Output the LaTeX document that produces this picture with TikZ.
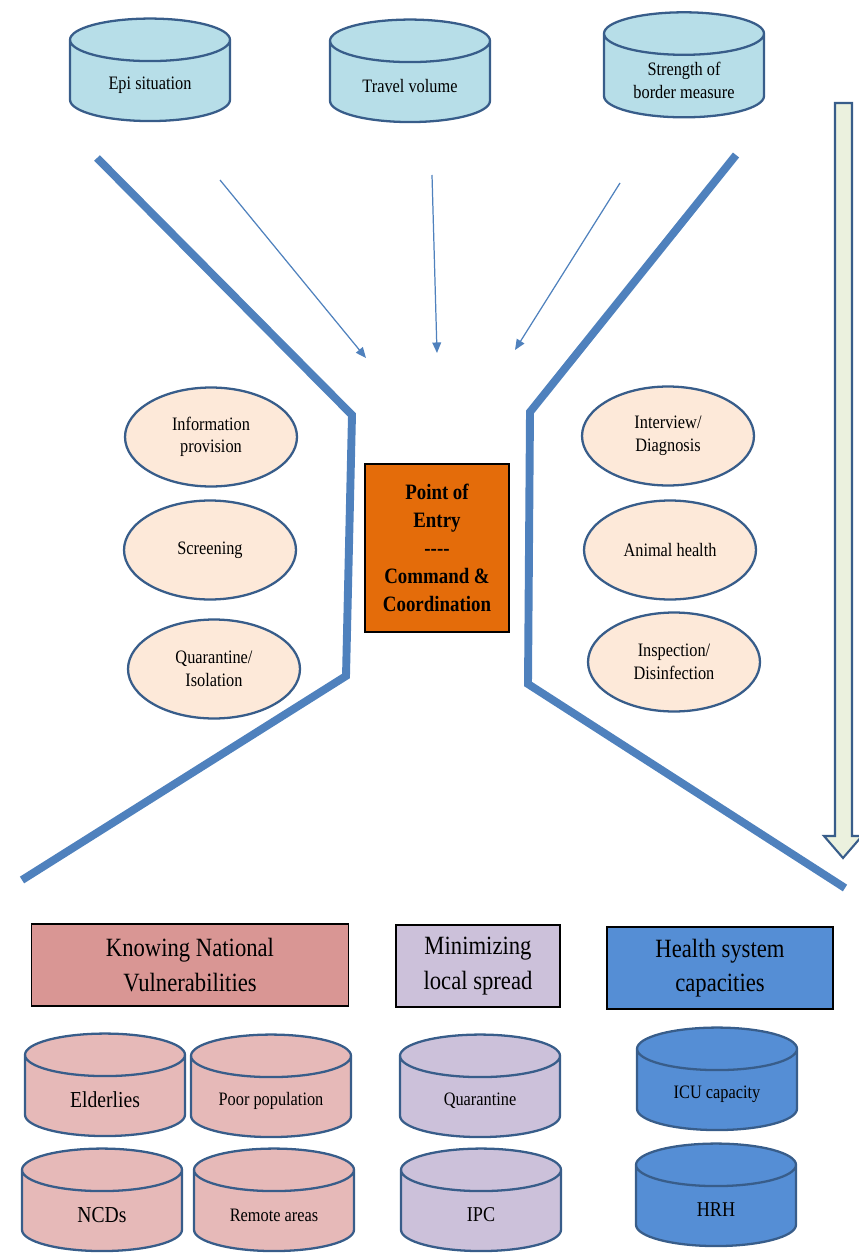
\documentclass[tikz,border=0pt]{standalone}
\usepackage{fontspec}
\setmainfont[FakeStretch=0.86]{Liberation Serif}
\usetikzlibrary{shapes.geometric,arrows.meta}
\definecolor{edgeblue}{HTML}{385D8A}
\definecolor{funnel}{HTML}{4F81BD}
\definecolor{skyfill}{HTML}{B7DEE8}
\definecolor{peach}{HTML}{FDE9D9}
\definecolor{poeorange}{HTML}{E46C0A}
\definecolor{rosehead}{HTML}{D99694}
\definecolor{rosecyl}{HTML}{E6B9B8}
\definecolor{lilac}{HTML}{CCC1DA}
\definecolor{hsblue}{HTML}{558ED5}
\definecolor{palegreen}{HTML}{EBF1DE}

\begin{document}
\begin{tikzpicture}[x=0.02cm,y=-0.02cm,
    dbase/.style={cylinder, shape border rotate=90, aspect=0.3, draw=edgeblue,
      line width=1.3pt, minimum width=3.2cm, minimum height=2.05cm,
      text width=2.6cm, align=flush center, font=\fontsize{10.8}{13}\selectfont},
    task/.style={ellipse, draw=edgeblue, fill=peach, line width=1.3pt,
      minimum width=3.44cm, minimum height=1.98cm, align=center,
      font=\fontsize{10.8}{12.8}\selectfont},
    pillar/.style={draw=black, line width=0.8pt, align=center,
      minimum height=1.64cm, font=\fontsize{15}{19.5}\selectfont},
    wall/.style={draw=funnel, line width=4.5pt},
    flow/.style={draw=funnel, line width=0.7pt, -{Triangle[length=6pt,width=5pt]}}]
    \useasboundingbox (0,0) rectangle (858,1253);

    \node[dbase, fill=skyfill] (epi) at (150,85) {Epi situation};
    \node[dbase, fill=skyfill] (travel) at (410,86) {Travel volume};
    \node[dbase, fill=skyfill] (border) at (684,80) {Strength of\\border measure};

    \draw[wall] (97,158) -- (352,415) -- (346,676) -- (22,880);
    \draw[wall] (736,155) -- (530,412) -- (528,684) -- (845,888);

    \coordinate (epiout) at (220,180);
    \coordinate (epiin) at (366,358);
    \coordinate (travelout) at (432,175);
    \coordinate (travelin) at (437,353);
    \coordinate (borderout) at (620,183);
    \coordinate (borderin) at (515,350);
    \draw[flow] (epiout) -- (epiin);
    \draw[flow] (travelout) -- (travelin);
    \draw[flow] (borderout) -- (borderin);

    \node[draw=black, line width=0.8pt, fill=poeorange, minimum width=2.88cm,
      minimum height=3.36cm, align=center,
      font=\bfseries\fontsize{12.5}{16}\selectfont] (poe) at (437,548)
      {Point of\\Entry\\-{}-{}-{}-\\Command \&\\Coordination};

    \node[task] (info) at (211,437) {Information\\provision};
    \node[task] (screen) at (210,550) {Screening};
    \node[task] (quarisol) at (214,669) {Quarantine/\\Isolation};
    \node[task] (interview) at (668,436) {Interview/\\Diagnosis};
    \node[task] (animal) at (670,550) {Animal health};
    \node[task] (inspect) at (674,662) {Inspection/\\Disinfection};

    \draw[draw=edgeblue, fill=palegreen, line width=1.2pt]
      (835,103) -- (852,103) -- (852,836) -- (862,836) -- (843,858)
      -- (824,836) -- (835,836) -- cycle;

    \node[pillar, fill=rosehead, minimum width=6.34cm] (vuln) at (190,965)
      {Knowing National\\Vulnerabilities};
    \node[pillar, fill=lilac, minimum width=3.28cm] (spread) at (478,966)
      {Minimizing\\local spread};
    \node[pillar, fill=hsblue, minimum width=4.52cm] (health) at (720,968)
      {Health system\\capacities};

    \node[dbase, fill=rosecyl, font=\fontsize{13}{14}\selectfont] (elder) at (105,1100) {Elderlies};
    \node[dbase, fill=rosecyl] (poor) at (271,1101) {Poor population};
    \node[dbase, fill=rosecyl, font=\fontsize{13}{14}\selectfont] (ncd) at (102,1215) {NCDs};
    \node[dbase, fill=rosecyl] (remote) at (274,1215) {Remote areas};
    \node[dbase, fill=lilac] (quar) at (480,1101) {Quarantine};
    \node[dbase, fill=lilac, font=\fontsize{12}{13}\selectfont] (ipc) at (481,1215) {IPC};
    \node[dbase, fill=hsblue] (icu) at (717,1094) {ICU capacity};
    \node[dbase, fill=hsblue, font=\fontsize{12}{13}\selectfont] (hrh) at (716,1210) {HRH};
\end{tikzpicture}
\end{document}
